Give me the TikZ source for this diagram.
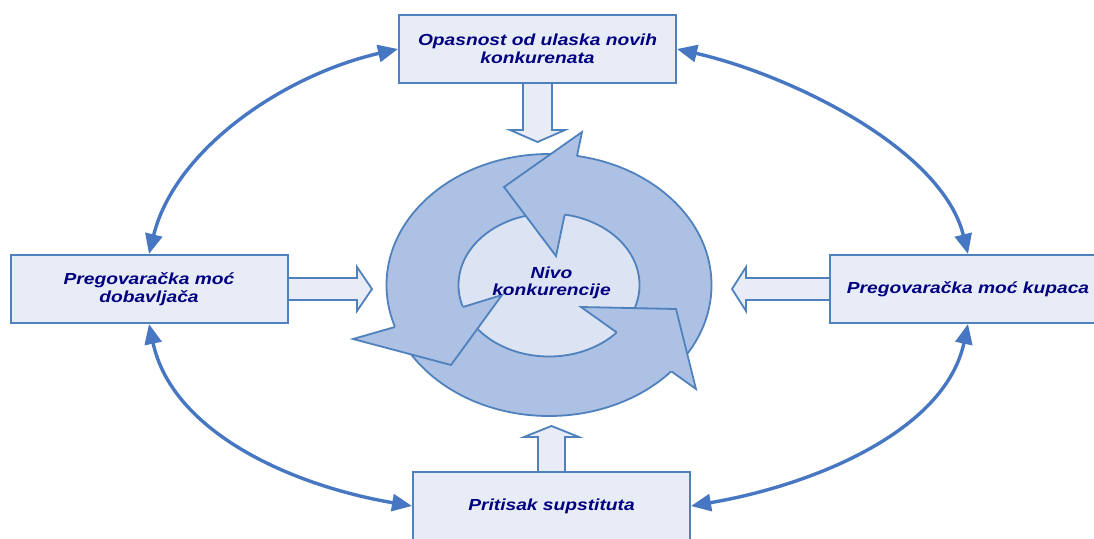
\documentclass[tikz,border=0pt]{standalone}
\usepackage{fontspec}
\newfontfamily\lbl{Liberation Sans}[FakeStretch=1.2]
\usetikzlibrary{arrows.meta}

\definecolor{edgeblue}{RGB}{79,129,189}
\definecolor{linkblue}{RGB}{71,119,194}
\definecolor{boxfill}{RGB}{231,236,247}
\definecolor{ringfill}{RGB}{172,193,227}
\definecolor{corefill}{RGB}{220,227,242}
\definecolor{labelnavy}{RGB}{0,0,128}

\begin{document}
\begin{tikzpicture}[x=1pt, y=-1pt,
  labeltext/.style={text=labelnavy, align=center,
    font=\lbl\bfseries\itshape\fontsize{16pt}{17.5pt}\selectfont},
  forcebox/.style={labeltext, draw=edgeblue, line width=2pt, fill=boxfill,
    minimum width=277pt, minimum height=68pt, inner sep=0pt},
  blockarrow/.style={draw=edgeblue, line width=1.8pt, fill=boxfill, line join=miter},
  ringedge/.style={draw=edgeblue, line width=1.8pt, line join=miter},
  linkarrow/.style={linkblue, line width=3.4pt,
    >={Triangle[length=20pt,width=17pt]}, <->}]

\useasboundingbox (0,0) rectangle (1094,538);
\clip (0,0) rectangle (1094,538);

% hollow block arrows pointing at the centre
\draw[blockarrow] (523,83) -- (523,130) -- (510,130) -- (537.5,142)
  -- (565,130) -- (552,130) -- (552,83);
\draw[blockarrow] (288,278) -- (357,278) -- (357,267) -- (372,289)
  -- (357,311) -- (357,300) -- (288,300);
\draw[blockarrow] (829,278) -- (746,278) -- (746,267) -- (732,289)
  -- (746,311) -- (746,300) -- (829,300);
\draw[blockarrow] (538,472) -- (538,437) -- (524,437) -- (551.5,426)
  -- (579,437) -- (565,437) -- (565,472);

% the five forces
\node[forcebox] (top)   at (537.5,49)  {Opasnost od ulaska novih\\konkurenata};
\node[forcebox] (left)  at (149,289)   {Pregovaračka moć\\dobavljača};
\node[forcebox] (right) at (968,289)   {Pregovaračka moć kupaca};
\node[forcebox] (bot)   at (551.5,506) {Pritisak supstituta};

% ring of circular arrows
\draw[ringedge, fill=ringfill] (549,285) ellipse [x radius=162.5pt, y radius=131pt];
\draw[ringedge, fill=corefill] (549,285) ellipse [x radius=90.5pt, y radius=71.5pt];

% arrow head at the top
\fill[ringfill] (582,132) -- (504,187) -- (556,256) -- cycle;
\draw[ringedge] (577,156) -- (582,132) -- (504,187) -- (556,256) -- (564.7,214.5);
% arrow head at the lower left
\fill[ringfill] (353,339) -- (451,365) -- (502,295) -- cycle;
\draw[ringedge] (395,327) -- (353,339) -- (451,365) -- (502,295) -- (463,307);
% arrow head at the lower right
\fill[ringfill] (581,307) -- (676,309) -- (696,389) -- cycle;
\draw[ringedge] (616.8,332.5) -- (581,307) -- (676,309) -- (696,389) -- (671.5,371.5);

\node[labeltext, inner sep=0pt] (core) at (551.5,283) {Nivo\\konkurencije};

% links between neighbouring forces
\draw[linkarrow] (left.north) .. controls +(26,-105) and +(-114,26) .. (top.west);
\draw[linkarrow] (top.east) .. controls +(114,26) and +(-26,-105) .. (right.north);
\draw[linkarrow] (left.south) .. controls +(23,107) and +(-123,-21) .. (bot.west);
\draw[linkarrow] (bot.east) .. controls +(123,-21) and +(-23,107) .. (right.south);
\end{tikzpicture}
\end{document}
